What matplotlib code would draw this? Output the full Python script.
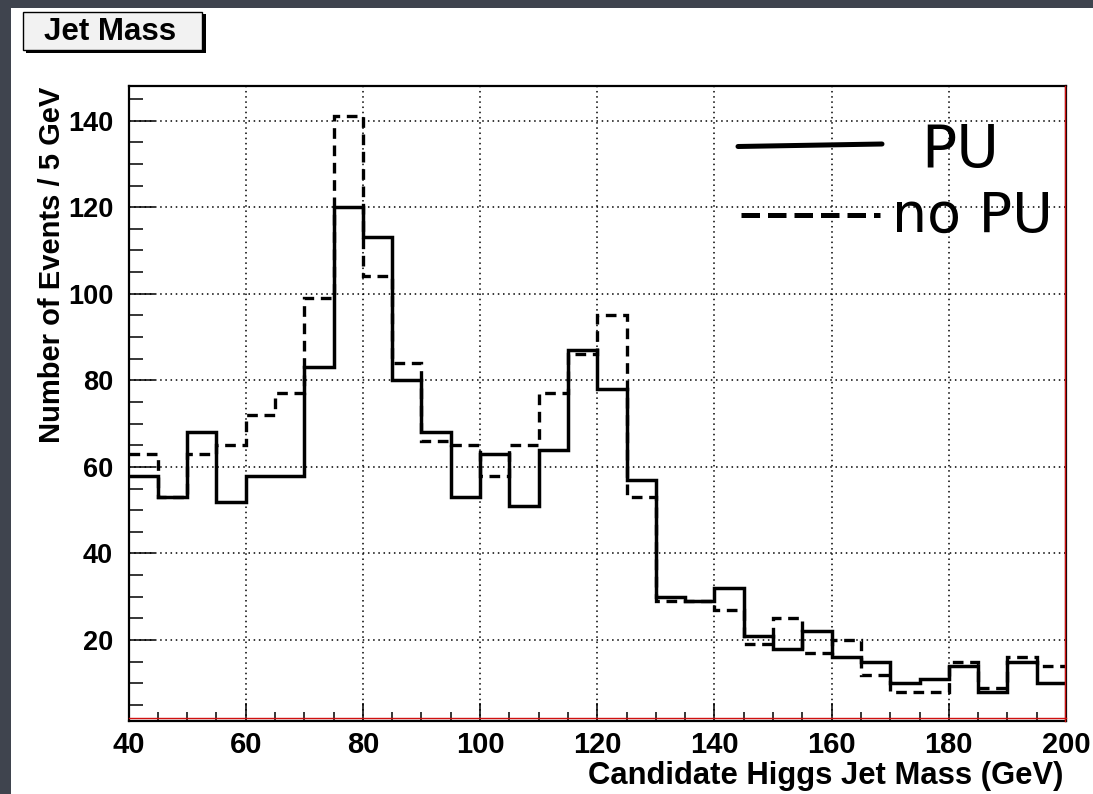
import numpy as np
import matplotlib
matplotlib.use("Agg")
import matplotlib.pyplot as plt
from matplotlib.patches import Rectangle
from matplotlib.ticker import MultipleLocator

# ---- data ----
bin_low = 40
bin_high = 200
bin_width = 5
pu_counts = [58, 53, 68, 52, 58, 58, 83, 120, 113, 80, 68, 53, 63, 51, 64, 87,
             78, 57, 30, 29, 32, 21, 18, 22, 16, 15, 10, 11, 14, 8, 15, 10]
nopu_counts = [63, 53, 63, 65, 72, 77, 99, 141, 104, 84, 66, 65, 58, 65, 77, 86,
               95, 53, 29, 29, 27, 19, 25, 17, 20, 12, 8, 8, 15, 9, 16, 14]
x_ticks = [40, 60, 80, 100, 120, 140, 160, 180, 200]
y_ticks = [20, 40, 60, 80, 100, 120, 140]
legend_labels = ["PU", "no PU"]
title_box = "Jet Mass"
x_title = "Candidate Higgs Jet Mass (GeV)"
y_title = "Number of Events / 5 GeV"

edges = np.arange(bin_low, bin_high + bin_width, bin_width)

W, H = 1093, 794
fig = plt.figure(figsize=(W / 100, H / 100), dpi=100)
fig.patch.set_facecolor("#3f444e")

# white canvas
fig.patches.append(Rectangle((11 / W, 0), 1 - 11 / W, 1 - 8 / H,
                             transform=fig.transFigure, facecolor="white",
                             edgecolor="none", zorder=-5))

ax = fig.add_axes([128.5 / W, 1 - 721 / H, (1066 - 128.5) / W, (721 - 86) / H])
ax.set_facecolor("white")
ax.set_zorder(1)

ax.stairs(nopu_counts, edges, baseline=None, color="black", lw=2.4,
          linestyle=(0, (3.2, 2.0)), zorder=3)
ax.stairs(pu_counts, edges, baseline=None, color="black", lw=2.5, zorder=4)

ax.set_xlim(bin_low, bin_high)
ax.set_ylim(1.3, 148)

ax.set_xticks(x_ticks)
ax.set_yticks(y_ticks)
ax.xaxis.set_minor_locator(MultipleLocator(5))
ax.yaxis.set_minor_locator(MultipleLocator(5))

ax.grid(True, which="major", color="black", lw=1.1, linestyle=(0, (1, 2.4)), zorder=1)

ax.tick_params(axis="x", which="major", direction="in", length=13, width=1.1,
               labelsize=21, pad=7, top=False)
ax.tick_params(axis="x", which="minor", direction="in", length=6.5, width=1.1, top=False)
ax.tick_params(axis="y", which="major", direction="in", length=19, width=1.1,
               labelsize=19.5, pad=11, right=False)
ax.tick_params(axis="y", which="minor", direction="in", length=10, width=1.1, right=False)
for lab in ax.get_xticklabels() + ax.get_yticklabels():
    lab.set_fontweight("bold")
    lab.set_fontfamily("Liberation Sans")

for s in ax.spines.values():
    s.set_linewidth(1.6)
    s.set_color("black")

# thin red lines inside bottom and right edges of the frame
ax.plot([0, 1], [0.004, 0.004], transform=ax.transAxes, color="#d01010", lw=1.0,
        clip_on=False, zorder=5)
ax.plot([0.9985, 0.9985], [0, 1], transform=ax.transAxes, color="#d01010", lw=1.0,
        clip_on=False, zorder=5)

# axis titles
fig.text(1063 / W, 1 - 776 / H, x_title, ha="right", va="center", fontsize=22.3,
         fontweight="bold", family="Liberation Sans")
fig.text(52 / W, 1 - 87 / H, y_title, ha="center", va="top", rotation=90,
         fontsize=21, fontweight="bold", family="Liberation Sans")

# title box with shadow
fig.patches.append(Rectangle((26 / W, 1 - 53 / H), 180 / W, 39 / H,
                             transform=fig.transFigure, facecolor="black",
                             edgecolor="none", zorder=2))
fig.patches.append(Rectangle((23 / W, 1 - 50 / H), 179 / W, 38 / H,
                             transform=fig.transFigure, facecolor="#f2f2f2",
                             edgecolor="black", lw=1.0, zorder=3))
fig.text(110 / W, 1 - 32 / H, title_box, ha="center", va="center", fontsize=22.5,
         fontweight="bold", family="Liberation Sans", zorder=4)

# legend (hand-drawn style), drawn above the axes
lax = fig.add_axes([0, 0, 1, 1], facecolor="none")
lax.set_zorder(2)
lax.set_xlim(0, W)
lax.set_ylim(H, 0)
lax.axis("off")
lax.plot([738, 882], [146.5, 144], color="black", lw=3.6, solid_capstyle="round")
lax.plot([741, 880], [215, 215], color="black", lw=3.6, linestyle=(0, (3.7, 1.6)))
lax.text(960, 151, legend_labels[0], ha="center", va="center",
         fontsize=42, family="DejaVu Sans")
lax.text(972, 217, legend_labels[1], ha="center", va="center",
         fontsize=40, family="DejaVu Sans")

fig.savefig("out.png", dpi=100, facecolor=fig.get_facecolor())
